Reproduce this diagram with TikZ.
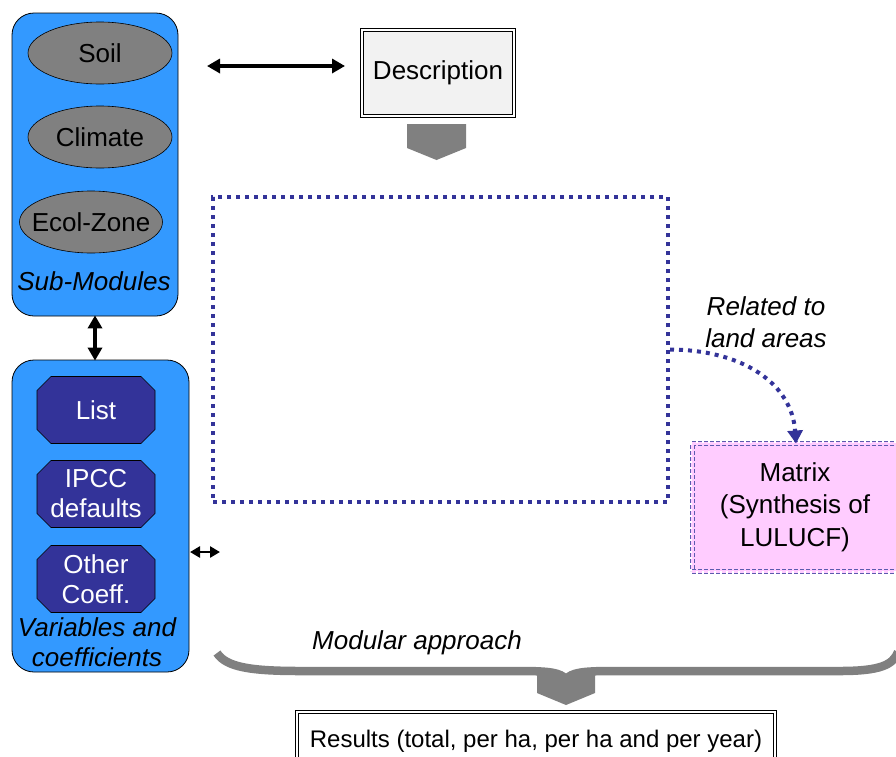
\documentclass[tikz,border=0pt]{standalone}
\usepackage{fontspec}
\setmainfont{Liberation Sans}
\usetikzlibrary{shapes.geometric,arrows.meta,calc}
\definecolor{modblue}{HTML}{3399FF}
\definecolor{octblue}{HTML}{333399}
\definecolor{greyfill}{HTML}{808080}
\definecolor{dotblue}{HTML}{333399}
\definecolor{pinkfill}{HTML}{FFCCFF}
\definecolor{dashblue}{HTML}{5B5BAE}
\definecolor{descfill}{HTML}{F2F2F2}
\newcommand\octpoly[4]{%
  \fill[octblue,draw=black,line width=0.6pt] (#2-45,#3-33.5) -- (#2+45,#3-33.5) -- (#2+59,#3-19.5) -- (#2+59,#3+19.5) -- (#2+45,#3+33.5) -- (#2-45,#3+33.5) -- (#2-59,#3+19.5) -- (#2-59,#3-19.5) -- cycle;
  \node[octtext] (#1) at (#2,#3) {#4};}
\begin{document}
\begin{tikzpicture}[x=1pt,y=-1pt,font=\fontsize{26}{30}\selectfont,
  modbox/.style={draw=black,line width=0.8pt,fill=modblue,rounded corners=22pt,inner sep=0pt},
  ellip/.style={ellipse,draw=black,line width=0.6pt,fill=greyfill,minimum width=144pt,minimum height=62pt,inner sep=0pt},
  octtext/.style={text=white,align=center,inner sep=0pt},
  dblbox/.style={draw=black,double=white,double distance=2pt,line width=0.8pt,inner sep=0pt},
  chevron/.style={fill=greyfill,draw=none},
  bigarrow/.style={line width=3.5pt,{Triangle[length=13pt,width=14pt]}-{Triangle[length=13pt,width=14pt]}},
  dotline/.style={draw=dotblue,line width=4pt,dash pattern=on 4pt off 5pt},
  lbl/.style={font=\fontsize{26}{32}\selectfont\itshape,align=center,inner sep=0pt}]
\clip (0,0) rectangle (896,756);
\fill[white] (0,0) rectangle (896,756);

% Sub-modules
\node[modbox,minimum width=166pt,minimum height=303pt] (sub) at (95,164.5) {};
\node[ellip,label={center:Soil}] (soil) at (100,53) {};
\node[ellip,label={center:Climate}] (clim) at (100,137) {};
\node[ellip,minimum width=143pt,label={center:Ecol-Zone}] (ecol) at (91,222) {};
\node[lbl] (sublbl) at (94,281) {Sub-Modules};

% Variables and coefficients
\node[modbox,minimum width=177pt,minimum height=312pt] (var) at (100.5,516) {};
\octpoly{list}{96}{410}{List}
\octpoly{ipcc}{96}{494}{IPCC\\defaults}
\octpoly{oth}{96}{579}{Other\\Coeff.}
\node[lbl,font=\fontsize{26}{30}\selectfont\itshape] (varlbl) at (97,642) {Variables and\\coefficients};

% arrows between modules
\coordinate (va) at (sub.south -| 95,0);
\coordinate (vb) at (var.north -| 95,0);
\draw[bigarrow] ([yshift=1pt]va) -- ([yshift=-1pt]vb);
\coordinate (ta) at (207,66);
\coordinate (tb) at (345,66);
\draw[bigarrow] (ta) -- (tb);
\coordinate (sa) at (190,552);
\coordinate (sb) at (220,552);
\draw[line width=2.8pt,{Triangle[length=10pt,width=11pt]}-{Triangle[length=10pt,width=11pt]}] (sa) -- (sb);

% Description
\node[dblbox,fill=descfill,minimum width=152pt,minimum height=86pt] (desc) at (438,73) {Description};
\fill[chevron] (407,124) -- (466,124) -- (466,148) -- (436.5,160) -- (407,148) -- cycle;

% dotted frame
\node[dotline,minimum width=455pt,minimum height=305pt,inner sep=0pt] (frame) at (440.5,349.5) {};

% Matrix
\node[draw=dashblue,double=pinkfill,double distance=3pt,line width=1pt,dash pattern=on 4pt off 2pt,fill=pinkfill,minimum width=208pt,minimum height=128pt,inner sep=0pt] (mat) at (796,507) {};
\node[align=center,inner sep=0pt,font=\fontsize{26}{32.5}\selectfont] (mattxt) at (795,507) {Matrix\\(Synthesis of\\LULUCF)};
\draw[dotline,-{Triangle[length=13pt,width=15pt]}] (frame.east) .. controls (745,350) and (792,385) .. ([yshift=-1pt]mat.north);
\node[lbl] (rel) at (766,322) {Related to\\land areas};

% brace
\node[lbl] (modap) at (417,643) {Modular approach};
\draw[greyfill,line width=8.5pt] (217,653) .. controls (226,667) and (250,671) .. (300,671) -- (520,671) .. controls (552,671) and (560,673) .. (566,679) .. controls (572,673) and (580,671) .. (612,671) -- (840,671) .. controls (880,671) and (893,665) .. (898,652);
\fill[chevron] (537,675) -- (595,675) -- (595,693) -- (566,705) -- (537,693) -- cycle;

% Results
\node[dblbox,fill=white,minimum width=478pt,minimum height=58pt,font=\fontsize{24}{28}\selectfont] (res) at (536,741) {Results (total, per ha, per ha and per year)};
\end{tikzpicture}
\end{document}
